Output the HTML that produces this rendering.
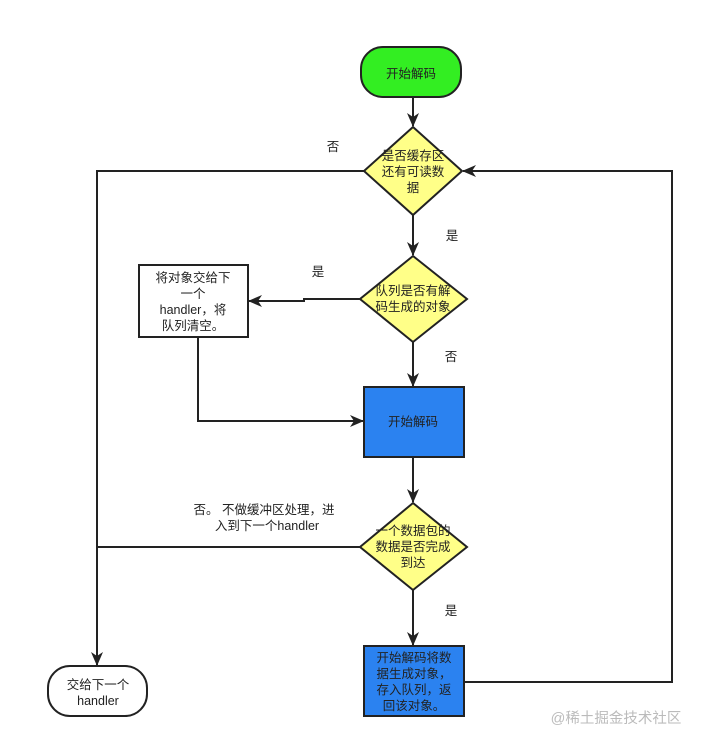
<!DOCTYPE html>
<html><head><meta charset="utf-8"><style>
body{margin:0;background:#fff}
svg text{font-family:"Liberation Sans","Noto Sans CJK SC",sans-serif;font-size:12.5px;fill:#222}
</style></head><body>
<svg width="704" height="748" xmlns="http://www.w3.org/2000/svg">
<defs><marker id="a" markerWidth="14" markerHeight="12" refX="13" refY="6" orient="auto" markerUnits="userSpaceOnUse"><path d="M0,0 L14,6 L0,12 L4,6 Z" fill="#222"/></marker></defs>
<g stroke="#222" stroke-width="2" fill="none">
<path d="M413,97 V126" marker-end="url(#a)"/>
<path d="M413,215 V255" marker-end="url(#a)"/>
<path d="M413,342 V386" marker-end="url(#a)"/>
<path d="M413,457 V502" marker-end="url(#a)"/>
<path d="M413,590 V645" marker-end="url(#a)"/>
<path d="M364,171 H97 V665" marker-end="url(#a)"/>
<path d="M360,547 H97"/>
<path d="M464,682 H672 V171 H463" marker-end="url(#a)"/>
<path d="M360,299 H304 V301 H249" marker-end="url(#a)"/>
<path d="M198,337 V421 H363" marker-end="url(#a)"/>
</g>
<rect x="361" y="47" width="100" height="50" rx="22" fill="#33ee22" stroke="#222" stroke-width="2"/>
<polygon points="413,127 462,171 413,215 364,171" fill="#ffff88" stroke="#222" stroke-width="2"/>
<polygon points="413,256 467,299 413,342 360,299" fill="#ffff88" stroke="#222" stroke-width="2"/>
<polygon points="413,503 467,547 413,590 360,547" fill="#ffff88" stroke="#222" stroke-width="2"/>
<rect x="139" y="265" width="109" height="72" fill="#fff" stroke="#222" stroke-width="2"/>
<rect x="364" y="387" width="100" height="70" fill="#2b82f0" stroke="#222" stroke-width="2"/>
<rect x="364" y="646" width="100" height="70" fill="#2b82f0" stroke="#222" stroke-width="2"/>
<rect x="48" y="666" width="99" height="50" rx="22" fill="#fff" stroke="#222" stroke-width="2"/>
<g text-anchor="middle">
<text x="411" y="78">开始解码</text>
<text x="413" y="160">是否缓存区</text><text x="413" y="176">还有可读数</text><text x="413" y="192">据</text>
<text x="413" y="295">队列是否有解</text><text x="413" y="311">码生成的对象</text>
<text x="193" y="282">将对象交给下</text><text x="193" y="298">一个</text><text x="193" y="314">handler，将</text><text x="193" y="330">队列清空。</text>
<text x="413" y="426">开始解码</text>
<text x="413" y="535">一个数据包的</text><text x="413" y="551">数据是否完成</text><text x="413" y="567">到达</text>
<text x="414" y="662">开始解码将数</text><text x="414" y="678">据生成对象，</text><text x="414" y="694">存入队列，返</text><text x="414" y="710">回该对象。</text>
<text x="98" y="689">交给下一个</text><text x="98" y="705">handler</text>
<text x="333" y="151">否</text><text x="452" y="240">是</text><text x="318" y="276">是</text><text x="451" y="361">否</text><text x="451" y="615">是</text>
<text x="264" y="514">否。 不做缓冲区处理，进</text><text x="267" y="530">入到下一个handler</text>
<text x="616" y="723" style="fill:#bbb;font-size:14.5px">@稀土掘金技术社区</text>
</g>
</svg>
</body></html>
